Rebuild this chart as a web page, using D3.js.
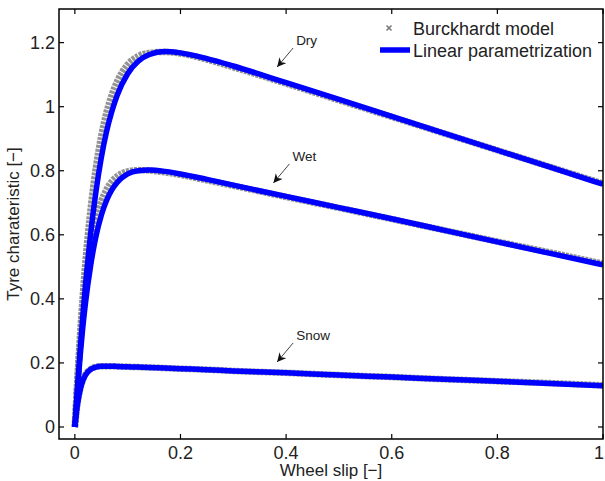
<!DOCTYPE html>
<html><head><meta charset="utf-8">
<script src="https://cdn.jsdelivr.net/npm/d3@7"></script>
<style>body{margin:0;background:#fff}svg{display:block;font-family:"Liberation Sans",Arial,sans-serif}</style>
</head><body><svg id="c" width="605" height="481"></svg>
<script>
// ---- data ----
const slip = [0,0.005,0.01,0.015,0.02,0.03,0.04,0.05,0.06,0.07,0.08,0.10,0.12,0.14,0.17,0.20,0.25,0.30,0.40,0.50,0.60,0.70,0.80,0.90,1.00];
const dryBurckhardt  = [0,0.155,0.291,0.410,0.514,0.683,0.812,0.909,0.983,1.038,1.079,1.132,1.158,1.168,1.171,1.166,1.147,1.123,1.072,1.020,0.968,0.916,0.864,0.812,0.760];
const dryLinear      = [0,0.120,0.240,0.345,0.440,0.605,0.735,0.840,0.922,0.985,1.035,1.103,1.142,1.162,1.172,1.168,1.150,1.127,1.075,1.023,0.970,0.917,0.864,0.811,0.758];
const wetBurckhardt  = [0,0.144,0.262,0.361,0.442,0.565,0.648,0.705,0.742,0.767,0.783,0.798,0.802,0.801,0.795,0.787,0.770,0.753,0.718,0.684,0.649,0.614,0.579,0.545,0.510];
const wetLinear      = [0,0.115,0.220,0.310,0.385,0.505,0.595,0.660,0.707,0.740,0.763,0.790,0.800,0.802,0.798,0.790,0.773,0.755,0.720,0.685,0.650,0.614,0.578,0.542,0.506];
const snowBurckhardt = [0,0.073,0.118,0.146,0.164,0.181,0.188,0.190,0.190,0.190,0.189,0.188,0.187,0.186,0.184,0.182,0.179,0.175,0.169,0.162,0.156,0.149,0.143,0.137,0.130];
const snowLinear     = [0,0.070,0.115,0.144,0.162,0.180,0.187,0.1895,0.190,0.190,0.189,0.188,0.187,0.186,0.184,0.182,0.179,0.175,0.169,0.162,0.156,0.149,0.143,0.136,0.129];
const xTicks = [0,0.2,0.4,0.6,0.8,1];
const yTicks = [0,0.2,0.4,0.6,0.8,1,1.2];
const curveLabels = ["Dry","Wet","Snow"];
const labelSlip  = [0.383,0.376,0.383];
const labelValue = [1.124,0.762,0.203];
const legendLabels = ["Burckhardt model","Linear parametrization"];
const xTitle = "Wheel slip [\u2212]";
const yTitle = "Tyre charateristic [\u2212]";

// ---- drawing ----
const svg = d3.select("#c");
const L=59, R=603, T=9, B=439;
const x = d3.scaleLinear().domain([-0.03,1]).range([L,R]);
const y = d3.scaleLinear().domain([-0.0375,1.305]).range([B,T]);

const defs = svg.append("defs");
defs.append("clipPath").attr("id","clip").append("rect").attr("x",L).attr("y",T).attr("width",R-L).attr("height",B-T);
defs.append("marker").attr("id","ah").attr("viewBox","0 0 10 10").attr("refX",10).attr("refY",5)
  .attr("markerWidth",9).attr("markerHeight",9).attr("markerUnits","userSpaceOnUse").attr("orient","auto")
  .append("path").attr("d","M0,0 L10,5 L0,10 L3,5 Z").attr("fill","#111");

const line = d3.line().x((d,i)=>x(slip[i])).y(d=>y(d)).curve(d3.curveMonotoneX);
const g = svg.append("g").attr("clip-path","url(#clip)");
const gray=[dryBurckhardt,wetBurckhardt,snowBurckhardt], blue=[dryLinear,wetLinear,snowLinear];
gray.forEach(s=>{
  g.append("path").attr("d",line(s)).attr("fill","none").attr("stroke","#808080").attr("stroke-width",6.5).attr("stroke-dasharray","3 1").attr("opacity",0.85);
});
blue.forEach(s=>{
  g.append("path").attr("d",line(s)).attr("fill","none").attr("stroke","#0000ff").attr("stroke-width",5.5).attr("stroke-linejoin","round");
});

// axes
const ax = svg.append("g").attr("stroke","#000");
ax.append("rect").attr("x",L).attr("y",T).attr("width",R-L).attr("height",B-T).attr("fill","none").attr("stroke-width",1.5);
xTicks.forEach(t=>{
  ax.append("line").attr("x1",x(t)).attr("x2",x(t)).attr("y1",B).attr("y2",B-5).attr("stroke-width",1.2);
  ax.append("line").attr("x1",x(t)).attr("x2",x(t)).attr("y1",T).attr("y2",T+5).attr("stroke-width",1.2);
});
yTicks.forEach(t=>{
  ax.append("line").attr("y1",y(t)).attr("y2",y(t)).attr("x1",L).attr("x2",L+5).attr("stroke-width",1.2);
  ax.append("line").attr("y1",y(t)).attr("y2",y(t)).attr("x1",R).attr("x2",R-5).attr("stroke-width",1.2);
});
const fmt = d=>String(+d.toFixed(1));
svg.append("g").selectAll("text").data(xTicks).join("text")
  .attr("x",d=>Math.min(x(d),599)).attr("y",459).attr("text-anchor","middle").attr("font-size",18).attr("fill","#222").text(fmt);
svg.append("g").selectAll("text").data(yTicks).join("text")
  .attr("x",L-4).attr("y",d=>y(d)+6.5).attr("text-anchor","end").attr("font-size",18).attr("fill","#222").text(fmt);
svg.append("text").attr("x",(L+R)/2).attr("y",476).attr("text-anchor","middle").attr("font-size",17).attr("fill","#222").text(xTitle);
svg.append("text").attr("transform",`translate(19,${(T+B)/2}) rotate(-90)`).attr("text-anchor","middle").attr("font-size",17).attr("fill","#222").text(yTitle);

// annotations
curveLabels.forEach((lab,i)=>{
  const tx=x(labelSlip[i]), ty=y(labelValue[i]);
  svg.append("line").attr("x1",tx+16).attr("y1",ty-19).attr("x2",tx).attr("y2",ty)
    .attr("stroke","#444").attr("stroke-width",1).attr("marker-end","url(#ah)");
  svg.append("text").attr("x",tx+19).attr("y",ty-22).attr("font-size",13.5).attr("fill","#222").text(lab);
});

// legend
const lg = svg.append("g");
const sym = d3.symbol().type(d3.symbolX).size(18);
lg.append("path").attr("d",sym()).attr("transform","translate(389,28)").attr("fill","none").attr("stroke","#777").attr("stroke-width",1.5);
lg.append("line").attr("x1",380).attr("x2",410).attr("y1",50).attr("y2",50).attr("stroke","#0000ff").attr("stroke-width",5.5);
legendLabels.forEach((t,i)=>{
  lg.append("text").attr("x",413).attr("y",35+i*22).attr("font-size",18).attr("fill","#222").text(t);
});
</script></body></html>
